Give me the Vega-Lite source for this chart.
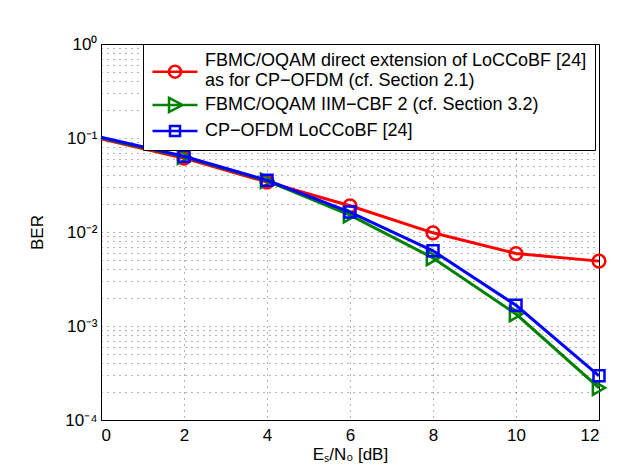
{
  "$schema": "https://vega.github.io/schema/vega-lite/v6.json",
  "width": 498,
  "height": 376,
  "autosize": {"type": "none"},
  "padding": {"left": 101, "top": 44, "right": 36, "bottom": 51},
  "background": "white",
  "config": {
    "font": "Liberation Sans",
    "view": {"stroke": "#000", "strokeWidth": 1},
    "axis": {
      "labelFont": "Liberation Sans", "labelFontSize": 17, "labelColor": "#000",
      "titleFont": "Liberation Sans", "titleFontSize": 17, "titleColor": "#000", "titleFontWeight": "normal",
      "domainColor": "#000", "grid": true, "gridColor": "#000", "gridDash": [1, 5], "gridOpacity": 0.6,
      "ticks": false
    }
  },
  "data": {
    "values": [
      {"series": "FBMC/OQAM direct extension of LoCCoBF [24] as for CP−OFDM (cf. Section 2.1)", "x": 0, "ber": 0.098},
      {"series": "FBMC/OQAM direct extension of LoCCoBF [24] as for CP−OFDM (cf. Section 2.1)", "x": 2, "ber": 0.061},
      {"series": "FBMC/OQAM direct extension of LoCCoBF [24] as for CP−OFDM (cf. Section 2.1)", "x": 4, "ber": 0.034},
      {"series": "FBMC/OQAM direct extension of LoCCoBF [24] as for CP−OFDM (cf. Section 2.1)", "x": 6, "ber": 0.019},
      {"series": "FBMC/OQAM direct extension of LoCCoBF [24] as for CP−OFDM (cf. Section 2.1)", "x": 8, "ber": 0.0098},
      {"series": "FBMC/OQAM direct extension of LoCCoBF [24] as for CP−OFDM (cf. Section 2.1)", "x": 10, "ber": 0.0059},
      {"series": "FBMC/OQAM direct extension of LoCCoBF [24] as for CP−OFDM (cf. Section 2.1)", "x": 12, "ber": 0.0049},
      {"series": "FBMC/OQAM IIM−CBF 2 (cf. Section 3.2)", "x": 0, "ber": 0.1},
      {"series": "FBMC/OQAM IIM−CBF 2 (cf. Section 3.2)", "x": 2, "ber": 0.063},
      {"series": "FBMC/OQAM IIM−CBF 2 (cf. Section 3.2)", "x": 4, "ber": 0.035},
      {"series": "FBMC/OQAM IIM−CBF 2 (cf. Section 3.2)", "x": 6, "ber": 0.0151},
      {"series": "FBMC/OQAM IIM−CBF 2 (cf. Section 3.2)", "x": 8, "ber": 0.0053},
      {"series": "FBMC/OQAM IIM−CBF 2 (cf. Section 3.2)", "x": 10, "ber": 0.00134},
      {"series": "FBMC/OQAM IIM−CBF 2 (cf. Section 3.2)", "x": 12, "ber": 0.00022},
      {"series": "CP−OFDM LoCCoBF [24]", "x": 0, "ber": 0.102},
      {"series": "CP−OFDM LoCCoBF [24]", "x": 2, "ber": 0.064},
      {"series": "CP−OFDM LoCCoBF [24]", "x": 4, "ber": 0.0355},
      {"series": "CP−OFDM LoCCoBF [24]", "x": 6, "ber": 0.0163},
      {"series": "CP−OFDM LoCCoBF [24]", "x": 8, "ber": 0.0063},
      {"series": "CP−OFDM LoCCoBF [24]", "x": 10, "ber": 0.00166},
      {"series": "CP−OFDM LoCCoBF [24]", "x": 12, "ber": 0.000295}
    ]
  },
  "encoding": {
    "x": {
      "field": "x", "type": "quantitative",
      "scale": {"domain": [0, 12], "nice": false},
      "axis": {"values": [0, 2, 4, 6, 8, 10, 12], "title": "Eₛ/N₀ [dB]", "labelPadding": 7, "titlePadding": 3}
    },
    "y": {
      "field": "ber", "type": "quantitative",
      "scale": {"type": "log", "domain": [0.0001, 1], "nice": false},
      "axis": {
        "title": "BER", "titlePadding": 18, "labelPadding": 4, "labelOverlap": false,
        "values": [0.0001, 0.0002, 0.0003, 0.0004, 0.0005, 0.0006, 0.0007, 0.0008, 0.0009,
                   0.001, 0.002, 0.003, 0.004, 0.005, 0.006, 0.007, 0.008, 0.009,
                   0.01, 0.02, 0.03, 0.04, 0.05, 0.06, 0.07, 0.08, 0.09,
                   0.1, 0.2, 0.3, 0.4, 0.5, 0.6, 0.7, 0.8, 0.9, 1],
        "labelExpr": "abs(log(datum.value)/LN10 - round(log(datum.value)/LN10)) < 0.001 ? '10' + ['⁰','⁻¹','⁻²','⁻³','⁻⁴'][abs(round(log(datum.value)/LN10))] : ''"
      }
    }
  },
  "layer": [
    {"transform": [{"filter": {"field": "series", "equal": "FBMC/OQAM direct extension of LoCCoBF [24] as for CP−OFDM (cf. Section 2.1)"}}],
     "mark": {"type": "line", "color": "#ff0000", "strokeWidth": 3}},
    {"transform": [{"filter": {"field": "series", "equal": "FBMC/OQAM direct extension of LoCCoBF [24] as for CP−OFDM (cf. Section 2.1)"}}, {"filter": "datum.x > 0"}],
     "mark": {"type": "point", "shape": "circle", "filled": false, "color": "#ff0000", "strokeWidth": 2.5, "size": 160, "opacity": 1}},
    {"transform": [{"filter": {"field": "series", "equal": "FBMC/OQAM IIM−CBF 2 (cf. Section 3.2)"}}],
     "mark": {"type": "line", "color": "#008000", "strokeWidth": 3}},
    {"transform": [{"filter": {"field": "series", "equal": "FBMC/OQAM IIM−CBF 2 (cf. Section 3.2)"}}, {"filter": "datum.x > 0"}],
     "mark": {"type": "point", "shape": "triangle-right", "filled": false, "color": "#008000", "strokeWidth": 2.5, "size": 200, "opacity": 1}},
    {"transform": [{"filter": {"field": "series", "equal": "CP−OFDM LoCCoBF [24]"}}],
     "mark": {"type": "line", "color": "#0000ff", "strokeWidth": 3}},
    {"transform": [{"filter": {"field": "series", "equal": "CP−OFDM LoCCoBF [24]"}}, {"filter": "datum.x > 0"}],
     "mark": {"type": "point", "shape": "square", "filled": false, "color": "#0000ff", "strokeWidth": 2.5, "size": 121, "opacity": 1}},
    {
      "mark": {"type": "point", "filled": false, "opacity": 0, "strokeWidth": 2.5},
      "encoding": {
        "color": {
          "field": "series", "type": "nominal",
          "scale": {"domain": ["FBMC/OQAM direct extension of LoCCoBF [24] as for CP−OFDM (cf. Section 2.1)", "FBMC/OQAM IIM−CBF 2 (cf. Section 3.2)", "CP−OFDM LoCCoBF [24]"],
                    "range": ["#ff0000", "#008000", "#0000ff"]},
          "legend": {
            "orient": "none", "legendX": 42, "legendY": 0, "title": null,
            "labelFont": "Liberation Sans", "labelFontSize": 18, "labelColor": "#000", "labelLimit": 0, "labelOffset": 21,
            "symbolSize": 169, "symbolOffset": 15, "symbolStrokeWidth": 2.5, "symbolFillColor": "transparent", "symbolOpacity": 1,
            "strokeColor": "#000", "fillColor": "#fff", "padding": 8, "rowPadding": 2,
            "labelExpr": "datum.label == 'FBMC/OQAM direct extension of LoCCoBF [24] as for CP−OFDM (cf. Section 2.1)' ? ['FBMC/OQAM direct extension of LoCCoBF [24]', 'as for CP−OFDM (cf. Section 2.1)'] : datum.label"
          }
        },
        "shape": {
          "field": "series", "type": "nominal",
          "scale": {"domain": ["FBMC/OQAM direct extension of LoCCoBF [24] as for CP−OFDM (cf. Section 2.1)", "FBMC/OQAM IIM−CBF 2 (cf. Section 3.2)", "CP−OFDM LoCCoBF [24]"],
                    "range": ["M-3.46,1.65H3.46M-0.92,1.65A0.92,0.92,0,1,1,0.92,1.65A0.92,0.92,0,1,1,-0.92,1.65",
                              "M-3.46,0H3.46M-0.92,-1.08L1.15,0L-0.92,1.08Z",
                              "M-3.46,0H3.46M-0.77,-0.77H0.77V0.77H-0.77Z"]},
          "legend": {
            "orient": "none", "legendX": 42, "legendY": 0, "title": null,
            "labelFont": "Liberation Sans", "labelFontSize": 18, "labelColor": "#000", "labelLimit": 0, "labelOffset": 21,
            "symbolSize": 169, "symbolOffset": 15, "symbolStrokeWidth": 2.5, "symbolFillColor": "transparent", "symbolOpacity": 1,
            "strokeColor": "#000", "fillColor": "#fff", "padding": 8, "rowPadding": 2,
            "labelExpr": "datum.label == 'FBMC/OQAM direct extension of LoCCoBF [24] as for CP−OFDM (cf. Section 2.1)' ? ['FBMC/OQAM direct extension of LoCCoBF [24]', 'as for CP−OFDM (cf. Section 2.1)'] : datum.label"
          }
        }
      }
    }
  ]
}
